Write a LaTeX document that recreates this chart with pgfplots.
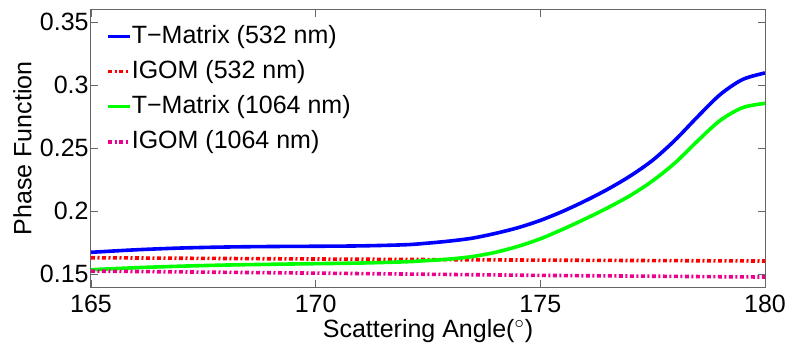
\documentclass[border=0pt]{standalone}
\usepackage{fontspec}
\setmainfont{Liberation Sans}
\usepackage{pgfplots}
\pgfplotsset{compat=1.18}
\begin{document}
\fontsize{12.5}{15}\selectfont
\begin{tikzpicture}
\begin{axis}[
  at={(0,0)}, anchor=south west,
  scale only axis, width=337pt, height=138.75pt,
  xmin=165, xmax=180, ymin=0.14, ymax=0.36,
  xtick={165,170,175,180},
  ytick={0.15,0.2,0.25,0.3,0.35},
  yticklabels={0.15,0.2,0.25,0.3,0.35},
  xticklabels={165,170,175,180},
  tick align=inside, major tick length=3.5pt,
  tick style={color=black!60, line width=0.4pt},
  axis line style={color=black!60, line width=0.5pt},
  ticklabel style={font=\fontsize{12.5}{15}\selectfont},
  yticklabel style={inner xsep=1pt},
  xticklabel style={inner sep=0pt, yshift=-4pt},
  xlabel={Scattering Angle($^\circ$)},
  ylabel={Phase Function},
  label style={font=\fontsize{12.5}{15}\selectfont},
  xlabel style={at={(axis description cs:0.5,0)}, anchor=north, yshift=-16pt, inner sep=0pt},
  ylabel style={at={(axis description cs:0,0.5)}, anchor=south, yshift=29.5pt, inner sep=0pt},
  legend style={at={(axis description cs:0.022,0.946)}, anchor=north west, draw=none, fill=none,
    inner sep=0pt, row sep=6pt, font=\fontsize{12.5}{15}\selectfont,
    nodes={inner sep=0pt, text depth=0.2em}},
  legend cell align=left,
  legend image code/.code={\draw[#1] (0pt,0pt) -- (11pt,0pt);},
  every axis plot/.append style={line width=1.8pt},
]
\addplot[blue, smooth] coordinates {
(165,0.1675) (166,0.1695) (167,0.1709) (168,0.1717) (169,0.1721) (170,0.1723) (171,0.1726)
(172,0.1735) (172.5,0.1748) (173,0.1765) (173.5,0.1788) (174,0.1825) (174.5,0.1870)
(175,0.1928) (175.5,0.2000) (176,0.2083) (176.5,0.2175) (177,0.2280) (177.5,0.2405)
(178,0.2565) (178.5,0.2750) (179,0.2925) (179.5,0.3045) (180,0.3097)
};
\addlegendentry{T\char"2212 Matrix (532 nm)}
\addplot[red, dash pattern=on 2pt off 1.25pt on 1pt off 1.25pt] coordinates {
(165,0.1632) (170,0.1622) (175,0.1613) (180,0.1606)
};
\addlegendentry{IGOM (532 nm)}
\addplot[green, smooth] coordinates {
(165,0.1537) (166,0.1553) (167,0.1565) (168,0.1574) (169,0.1580) (170,0.1585) (171,0.1590)
(172,0.1600) (172.5,0.1610) (173,0.1622) (173.5,0.1642) (174,0.1675) (174.5,0.1722)
(175,0.1782) (175.5,0.1858) (176,0.1940) (176.5,0.2028) (177,0.2125) (177.5,0.2242)
(178,0.2385) (178.5,0.2558) (179,0.2720) (179.5,0.2822) (180,0.2856)
};
\addlegendentry{T\char"2212 Matrix (1064 nm)}
\addplot[magenta, dash pattern=on 2pt off 1.25pt on 1pt off 1.25pt] coordinates {
(165,0.1526) (170,0.1510) (175,0.1492) (180,0.1479)
};
\addlegendentry{IGOM (1064 nm)}
\end{axis}
\pgfresetboundingbox
\path (-45.5pt,-28pt) rectangle (348pt,143.5pt);
\end{tikzpicture}
\end{document}
